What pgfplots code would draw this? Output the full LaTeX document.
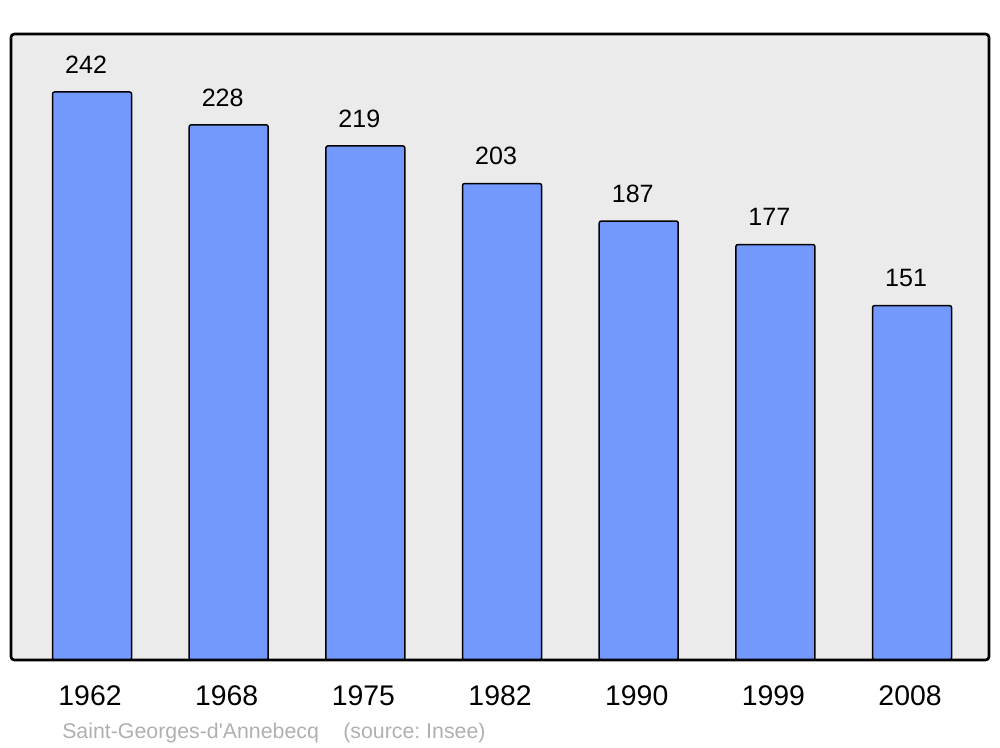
\documentclass[border=0pt]{standalone}
\usepackage{fontspec}
\setmainfont{Liberation Sans}[Ligatures=TeXOff]
\usepackage{pgfplots}
\pgfplotsset{compat=1.18}
\definecolor{barblue}{HTML}{7399FF}
\definecolor{bg}{HTML}{EBEBEB}
\definecolor{srcgray}{HTML}{B0B0B0}
\frenchspacing
\begin{document}
\begin{tikzpicture}
\begin{axis}[
  scale only axis,
  width=733.5pt, height=469.5pt,
  xmin=-0.593, xmax=6.563,
  ymin=0, ymax=266.7,
  axis line style={draw=none},
  axis background/.style={fill=bg, rounded corners=2pt},
  ytick=\empty,
  xtick={0,1,2,3,4,5,6},
  xticklabels={1962,1968,1975,1982,1990,1999,2008},
  major tick length=0pt,
  /pgf/number format/assume math mode=true,
  xticklabel style={font=\fontsize{21.3pt}{24pt}\selectfont, anchor=base, yshift=-33.75pt, xshift=-1.5pt},
  ybar, bar width=59.25pt,
  nodes near coords,
  every node near coord/.append style={font=\fontsize{18.8pt}{21pt}\selectfont, anchor=base, yshift=14pt, xshift=-4.5pt},
  clip=false,
]
\addplot[fill=barblue, draw=black, line width=1.1pt, rounded corners=1.5pt] coordinates {
  (0,242) (1,228) (2,219) (3,203) (4,187) (5,177) (6,151)
};
\draw[line width=2pt, rounded corners=2.5pt] (rel axis cs:0,0) rectangle (rel axis cs:1,1);
\coordinate (sw) at (rel axis cs:0,0);
\coordinate (ne) at (rel axis cs:1,1);
\end{axis}
\node[anchor=base west, inner sep=0pt, text=srcgray, font=\fontsize{16pt}{18pt}\selectfont] at ([shift={(38.25pt,-58.5pt)}]sw) {Saint-Georges-d'Annebecq};
\node[anchor=base west, inner sep=0pt, text=srcgray, font=\fontsize{16pt}{18pt}\selectfont] at ([shift={(249pt,-58.5pt)}]sw) {(source: Insee)};
\pgfresetboundingbox
\path ([shift={(-8.25pt,-65.25pt)}]sw) rectangle ([shift={(8.25pt,25.5pt)}]ne);
\end{tikzpicture}
\end{document}
